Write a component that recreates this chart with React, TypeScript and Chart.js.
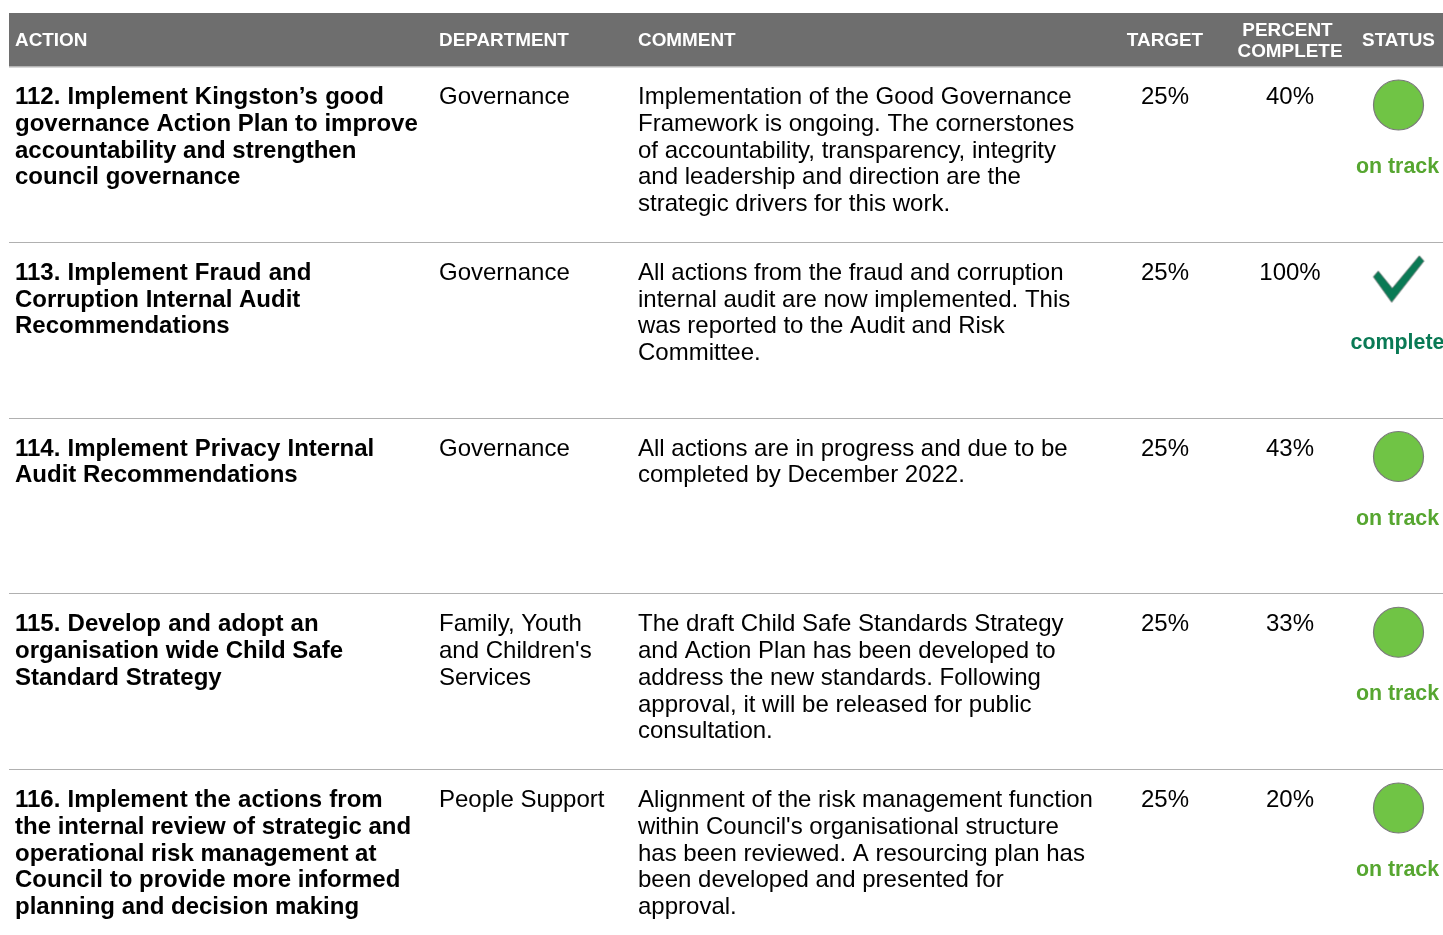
import React, { useEffect, useRef } from "react";
import { Chart, registerables } from "chart.js";

Chart.register(...registerables);

const headers = ["ACTION", "DEPARTMENT", "COMMENT", "TARGET", "PERCENT|COMPLETE", "STATUS"];
const actions = [
  ["112. Implement Kingston\u2019s good", "governance Action Plan to improve", "accountability and strengthen", "council governance"],
  ["113. Implement Fraud and", "Corruption Internal Audit", "Recommendations"],
  ["114. Implement Privacy Internal", "Audit Recommendations"],
  ["115. Develop and adopt an", "organisation wide Child Safe", "Standard Strategy"],
  ["116. Implement the actions from", "the internal review of strategic and", "operational risk management at", "Council to provide more informed", "planning and decision making"],
];
const departments = [
  ["Governance"],
  ["Governance"],
  ["Governance"],
  ["Family, Youth", "and Children's", "Services"],
  ["People Support"],
];
const comments = [
  ["Implementation of the Good Governance", "Framework is ongoing. The cornerstones", "of accountability, transparency, integrity", "and leadership and direction are the", "strategic drivers for this work."],
  ["All actions from the fraud and corruption", "internal audit are now implemented. This", "was reported to the Audit and Risk", "Committee."],
  ["All actions are in progress and due to be", "completed by December 2022."],
  ["The draft Child Safe Standards Strategy", "and Action Plan has been developed to", "address the new standards. Following", "approval, it will be released for public", "consultation."],
  ["Alignment of the risk management function", "within Council's organisational structure", "has been reviewed. A resourcing plan has", "been developed and presented for", "approval."],
];
const targets = [25, 25, 25, 25, 25];
const percentComplete = [40, 100, 43, 33, 20];
const statuses = ["on track", "complete", "on track", "on track", "on track"];

const FONT = '"Liberation Sans", Arial, sans-serif';
const W = 1443;
const H = 935;
const ROW = 175.75;
const FIRST_MARK_Y = 105;
const STATUS_X = 1398.5;
const HEADER = { x: 9, y: 13, h: 53.5 };
const COL = { action: 15, dept: 439, comment: 638, target: 1165, pct: 1290 };
const LINE = 26.72;
const GREEN = "#70c445";
const TRACK = "#56a630";
const DONE = "#0a7a55";

function makeCheck() {
  const c = document.createElement("canvas");
  c.width = 56;
  c.height = 52;
  const g = c.getContext("2d")!;
  g.beginPath();
  g.moveTo(2.8, 22);
  g.lineTo(7.8, 16.3);
  g.lineTo(21.8, 33.6);
  g.lineTo(48.8, 1);
  g.lineTo(53.5, 6.3);
  g.lineTo(21.2, 47.6);
  g.closePath();
  g.fillStyle = DONE;
  g.fill();
  g.strokeStyle = "#666666";
  g.lineWidth = 0.7;
  g.stroke();
  return c;
}

const tablePlugin = {
  id: "tablePlugin",
  beforeDatasetsDraw(chart: any) {
    const g = chart.ctx as any;
    const sy = chart.scales.y;
    g.save();
    g.fillStyle = "#6e6e6e";
    g.fillRect(HEADER.x, HEADER.y, W - HEADER.x, HEADER.h);
    g.fillStyle = "#b4b4b4";
    g.fillRect(HEADER.x, HEADER.y + HEADER.h, W - HEADER.x, 1);
    g.fillStyle = "#b0b0b0";
    for (let r = 1; r < actions.length; r++) {
      const ly = Math.round(sy.getPixelForValue(r) - 39);
      g.fillRect(HEADER.x, ly, W - HEADER.x, 1);
    }
    g.textBaseline = "alphabetic";
    g.fillStyle = "#ffffff";
    g.font = `bold 18.9px ${FONT}`;
    g.textAlign = "left";
    g.fillText(headers[0], COL.action, 46);
    g.fillText(headers[1], COL.dept, 46);
    g.fillText(headers[2], COL.comment, 46);
    g.textAlign = "center";
    g.fillText(headers[3], COL.target, 46);
    const [p1, p2] = headers[4].split("|");
    g.fillText(p1, 1287.5, 36);
    g.fillText(p2, COL.pct, 57);
    g.fillText(headers[5], STATUS_X, 46);

    actions.forEach((_, r) => {
      const base = sy.getPixelForValue(r);
      const b = base - 0.8;
      g.fillStyle = "#000000";
      g.textAlign = "left";
      g.font = `bold 24px ${FONT}`;
      actions[r].forEach((t, i) => {
        g.wordSpacing = i === 0 ? "0.55px" : "0px";
        g.fillText(t, COL.action, b + i * LINE);
      });
      g.wordSpacing = "0px";
      g.font = `24px ${FONT}`;
      departments[r].forEach((t, i) => g.fillText(t, COL.dept, b + i * LINE));
      comments[r].forEach((t, i) => g.fillText(t, COL.comment, b + i * LINE));
      g.textAlign = "center";
      g.fillText(`${targets[r]}%`, COL.target, b);
      g.fillText(`${percentComplete[r]}%`, COL.pct, b);
      g.font = `bold 21.4px ${FONT}`;
      g.fillStyle = statuses[r] === "complete" ? DONE : TRACK;
      g.fillText(statuses[r], STATUS_X - 1, base + 68);
    });
    g.restore();
  },
};

export default function App() {
  const ref = useRef<HTMLCanvasElement>(null);
  useEffect(() => {
    const check = makeCheck();
    const chart = new Chart(ref.current!, {
      type: "scatter",
      data: {
        datasets: [
          {
            label: "Status",
            data: statuses.map((_, r) => ({ x: STATUS_X, y: r })),
            pointStyle: statuses.map((s) => (s === "complete" ? check : "circle")) as any,
            pointRadius: 25,
            pointHoverRadius: 25,
            backgroundColor: GREEN,
            borderColor: "#7a7a7a",
            borderWidth: statuses.map((s) => (s === "complete" ? 0 : 1.2)) as any,
          },
        ],
      },
      options: {
        animation: false,
        responsive: false,
        layout: { padding: 0, autoPadding: false },
        plugins: { legend: { display: false }, tooltip: { enabled: false } },
        scales: {
          x: { type: "linear", display: false, min: 0, max: W },
          y: {
            type: "linear",
            display: false,
            reverse: true,
            min: -FIRST_MARK_Y / ROW,
            max: (H - FIRST_MARK_Y) / ROW,
          },
        },
      },
      plugins: [tablePlugin],
    });
    return () => chart.destroy();
  }, []);
  return (
    <div style={{ position: "absolute", left: 0, top: 0, width: W, height: H, background: "#fff" }}>
      <canvas ref={ref} width={W} height={H} style={{ display: "block" }} />
    </div>
  );
}
